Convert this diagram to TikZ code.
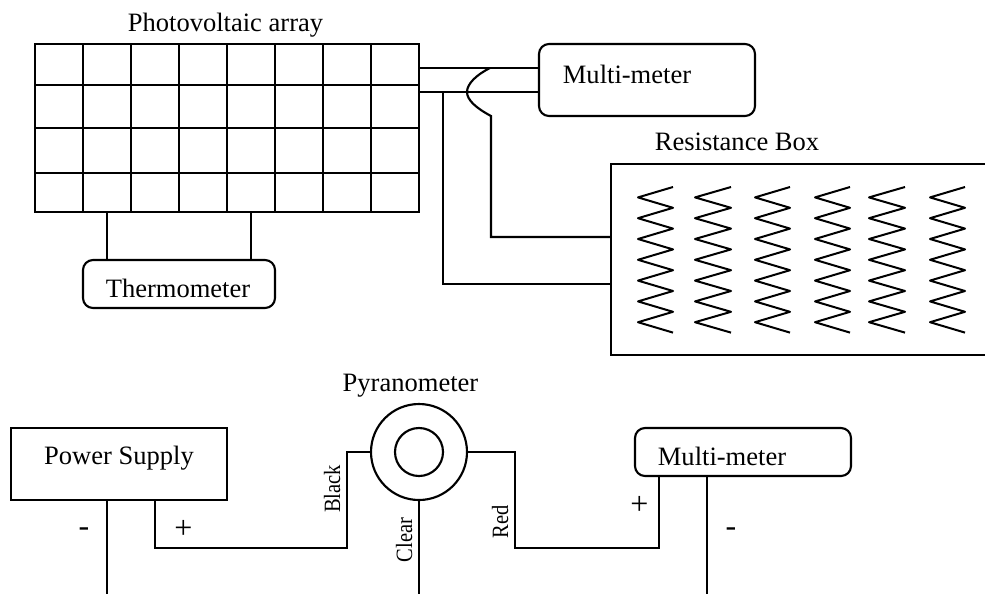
\documentclass[tikz,border=0pt]{standalone}
\usepackage{fontspec}
\setmainfont{Liberation Serif}
\usetikzlibrary{calc}
\tikzset{
  x=0.75pt,y=-0.75pt,
  every picture/.style={line width=1.6pt,line join=miter},
  lbl/.style={inner sep=0pt,outer sep=0pt,anchor=base,font=\fontsize{19.9}{24}\selectfont},
  small lbl/.style={inner sep=0pt,outer sep=0pt,anchor=base,rotate=90,font=\fontsize{17.5}{20}\selectfont},
  sign lbl/.style={inner sep=0pt,outer sep=0pt,font=\fontsize{24}{28}\selectfont},
  sqbox/.style={draw,inner sep=0pt,outer sep=0pt},
  rbox/.style={draw,inner sep=0pt,outer sep=0pt,rounded corners=7.5pt},
  coil/.style={line width=1.5pt,line join=round},
}
\newcommand{\boxat}[7]{\node[#1] (#2) at ({(#3+#5)/2},{(#4+#6)/2}) [minimum width={(#5-#3)*0.75pt},minimum height={(#6-#4)*0.75pt}] {#7};}
\newcommand{\squeezed}[1]{\scalebox{0.88}[1]{#1}}
\begin{document}
\begin{tikzpicture}
\useasboundingbox (0,0) rectangle (985,594);
% photovoltaic array
\boxat{sqbox}{pv}{35}{44}{419}{212}{}
\foreach \x in {83,131,179,227,275,323,371} \draw (\x,44) -- (\x,212);
\foreach \y in {85,128,173} \draw (35,\y) -- (419,\y);
\node[lbl] (pvl) at (225.5,31.5) {Photovoltaic array};
% thermometer
\boxat{rbox}{th}{83}{260}{275}{308}{}
\node[lbl] (thl) at (178,297) {Thermometer};
\draw (107,212) -- (107,260);
\draw (251,212) -- (251,260);
% multimeter top
\boxat{rbox}{mma}{539}{44}{755}{116}{}
\node[lbl] (mmal) at (627,83) {Multi-meter};
\coordinate (wa) at (419,68);
\coordinate (wb) at (419,92);
\draw (wa) -- (wa -| mma.west);
\draw (wb) -- (wb -| mma.west);
% resistance box
\coordinate (rbtl) at (611,164);
\coordinate (rbbl) at (611,355);
\draw (985,164) -- (rbtl) -- (rbbl) -- (985,355);
\node[lbl] (rbl) at (737,150) {Resistance Box};
\coordinate (ca) at (491,116);
\coordinate (cb) at (443,92);
\draw (490,68) .. controls (476,75) and (467,84) .. (467,92) .. controls (467,100) and (476,108) .. (491,116) -- (491,237) -- (611,237);
\draw (cb) -- (443,284) -- (611,284);
% coils
\foreach \l/\r in {638/673,695/731,755/790,815/850,869/905,930/965}{
  \draw[coil] (\r,187) -- (\l,197.4) -- (\r,207.8) -- (\l,218.2) -- (\r,228.6) -- (\l,239) -- (\r,249.4) -- (\l,259.8) -- (\r,270.2) -- (\l,280.6) -- (\r,291) -- (\l,301.4) -- (\r,311.8) -- (\l,322.2) -- (\r,332.6);
}
% pyranometer
\node[draw,circle,minimum size=72pt,inner sep=0pt,outer sep=0pt] (py) at (419,452) {};
\node[draw,circle,minimum size=36pt,inner sep=0pt,outer sep=0pt] (pyi) at (419,452) {};
\node[lbl] (pyl) at (410.5,391) {Pyranometer};
% power supply
\boxat{sqbox}{ps}{11}{428}{227}{500}{}
\node[lbl] (psl) at (119,464.5) {Power Supply};
\coordinate (b1) at (107,594);
\draw (107,500) -- (b1);
\draw (155,500) -- (155,548) -- (347,548) -- (347,452) -- (py.west);
\coordinate (b2) at (419,594);
\draw (py.south) -- (b2);
% multimeter bottom
\boxat{rbox}{mmb}{635}{428}{851}{476}{}
\node[lbl] (mmbl) at (722,465) {Multi-meter};
\draw (py.east) -- (515,452) -- (515,548) -- (659,548) -- (659,476);
\coordinate (b3) at (707,594);
\draw (707,476) -- (b3);
% labels
\node[sign lbl] (m1) at (84,532) {-};
\node[sign lbl] (p1) at (183.5,529) {+};
\node[small lbl] (lb) at (340,489) {\squeezed{Black}};
\node[small lbl] (lc) at (412,540) {\squeezed{Clear}};
\node[small lbl] (lr) at (508,522) {\squeezed{Red}};
\node[sign lbl] (p2) at (639.5,505) {+};
\node[sign lbl] (m2) at (731,532) {-};
\end{tikzpicture}
\end{document}
